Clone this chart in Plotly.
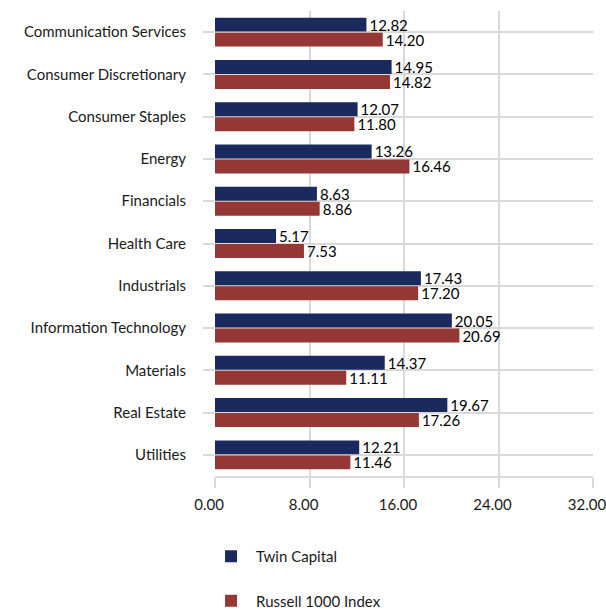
import plotly.graph_objects as go

categories = [
    "Communication Services", "Consumer Discretionary", "Consumer Staples",
    "Energy", "Financials", "Health Care", "Industrials",
    "Information Technology", "Materials", "Real Estate", "Utilities",
]
twin_capital = [12.82, 14.95, 12.07, 13.26, 8.63, 5.17, 17.43, 20.05, 14.37, 19.67, 12.21]
russell_1000 = [14.20, 14.82, 11.80, 16.46, 8.86, 7.53, 17.20, 20.69, 11.11, 17.26, 11.46]
series_names = ["Twin Capital", "Russell 1000 Index"]
x_ticks = [0, 8, 16, 24, 32]
x_tick_labels = ["0.00", "8.00", "16.00", "24.00", "32.00"]

colors = ["#1b2a5e", "#953735"]
font_family = "Lato, 'Open Sans', sans-serif"
grid_color = "#d9d9d9"
text_color = "#1a1a1a"

fig = go.Figure()
for i, (name, vals) in enumerate(zip(series_names, [twin_capital, russell_1000])):
    fig.add_trace(go.Bar(
        y=categories, x=vals, name=name, orientation="h",
        marker=dict(color=colors[i], line=dict(width=0)),
        texttemplate="%{x:.2f}", textposition="outside",
        constraintext="none",
        textfont=dict(family=font_family, size=15, color="#000000"),
        cliponaxis=False, legendgroup=f"g{i}",
    ))

fig.update_layout(
    width=606, height=614,
    margin=dict(l=215, r=13, t=11, b=138, autoexpand=False),
    paper_bgcolor="white", plot_bgcolor="white",
    barmode="group", bargap=0.29, bargroupgap=0.07,
    font=dict(family=font_family, size=15, color=text_color),
    showlegend=True,
    legend=dict(
        orientation="v", xref="container", yref="container",
        x=0.340, xanchor="left", y=0.1205, yanchor="top",
        font=dict(family=font_family, size=15, color=text_color),
        tracegroupgap=22, itemwidth=40, bgcolor="rgba(0,0,0,0)",
    ),
)
fig.update_xaxes(
    range=[0, 32], tickvals=x_ticks, ticktext=x_tick_labels,
    automargin=False, ticklabeloverflow="allow", ticklabelshift=-6,
    showgrid=True, gridcolor=grid_color, gridwidth=2,
    zeroline=False, showline=True, linecolor=grid_color, linewidth=2,
    ticks="outside", ticklen=10, tickwidth=2, tickcolor=grid_color,
    ticklabelstandoff=4,
    tickfont=dict(family=font_family, size=15, color=text_color),
    fixedrange=True,
)
fig.update_yaxes(
    autorange="reversed", type="category", automargin=False,
    showgrid=True, gridcolor=grid_color, gridwidth=2,
    showline=False, zeroline=False,
    ticks="outside", ticklen=11, tickwidth=2, tickcolor=grid_color,
    ticklabelstandoff=14,
    tickfont=dict(family=font_family, size=15, color=text_color),
    fixedrange=True,
)

# remove the browser's default 8px body margin so the figure fills the window exactly
fig.write_html(
    "out.html",
    config={"displayModeBar": False},
    post_script="document.body.style.margin='0';document.body.style.overflow='hidden';",
)
